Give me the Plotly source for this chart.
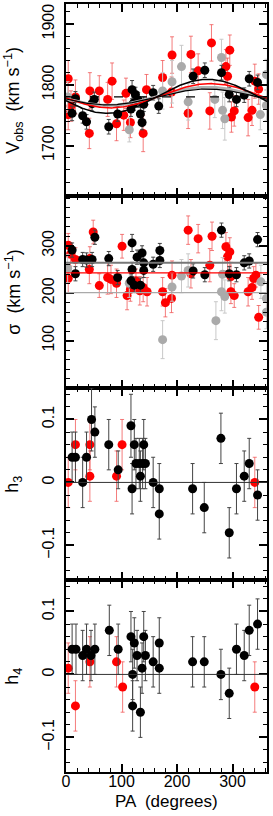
import numpy as np
import plotly.graph_objects as go
from plotly.subplots import make_subplots

# ---------------- data ----------------
# Panel 1: V_obs
v_red_pa = [4, 4, 9, 17, 42, 43, 60, 75, 83, 91, 104, 108, 116, 139, 145, 174, 190, 191, 220, 225, 238, 259, 262, 288, 291, 295, 298, 303, 328, 335, 340, 347]
v_red = [1810, 1751, 1765, 1780, 1720, 1790, 1790, 1776, 1806, 1736, 1750, 1786, 1738, 1720, 1792, 1812, 1788, 1849, 1753, 1850, 1823, 1757, 1869, 1830, 1814, 1857, 1747, 1757, 1746, 1758, 1806, 1793]
v_red_err = [30, 25, 25, 28, 25, 30, 25, 28, 30, 28, 25, 25, 25, 30, 25, 28, 25, 30, 25, 30, 28, 30, 30, 28, 30, 25, 25, 25, 30, 25, 28, 25]

v_blk_pa = [11, 17, 30, 37, 47, 51, 77, 93, 117, 119, 122, 125, 130, 134, 137, 140, 157, 167, 229, 250, 280, 294, 307, 321, 330, 345]
v_blk = [1753, 1777, 1749, 1739, 1769, 1776, 1731, 1752, 1760, 1792, 1770, 1784, 1775, 1752, 1738, 1768, 1787, 1765, 1814, 1824, 1820, 1784, 1776, 1783, 1810, 1804]
v_blk_err = [12, 12, 12, 12, 12, 12, 12, 12, 12, 15, 12, 12, 12, 12, 12, 12, 12, 12, 12, 12, 12, 12, 12, 12, 12, 12]

v_gry_pa = [3, 114, 174, 191, 208, 220, 268, 280, 282, 286, 350, 361, 361]
v_gry = [1780, 1726, 1790, 1805, 1830, 1772, 1776, 1845, 1758, 1744, 1751, 1817, 1766]
v_gry_err = [25, 20, 30, 35, 35, 30, 30, 30, 30, 35, 25, 25, 25]

# rotation-curve fits: (V_sys, amplitude, PA_max)
fit_black_outer = (1781, 28, 255)
fit_black_inner = (1780, 13, 255)
fit_red = (1782, 20, 260)
fit_gray = (1781, 15, 255)
v_sys_line = 1780

# Panel 2: sigma
s_red_pa = [4, 4, 8, 17, 42, 43, 49, 60, 75, 81, 91, 101, 110, 116, 126, 133, 139, 146, 174, 179, 190, 191, 220, 225, 238, 259, 263, 288, 291, 295, 297, 297, 303, 328, 335, 338, 342, 347]
s_red = [301, 231, 282, 271, 250, 273, 329, 216, 233, 229, 221, 299, 195, 208, 226, 205, 212, 203, 203, 180, 189, 238, 333, 241, 315, 259, 320, 298, 277, 287, 235, 203, 195, 203, 212, 231, 238, 149]
s_red_err = [25, 30, 25, 25, 30, 25, 25, 25, 35, 30, 30, 25, 30, 25, 25, 30, 30, 30, 30, 30, 30, 30, 30, 30, 30, 35, 30, 30, 30, 30, 30, 25, 25, 30, 25, 25, 25, 25]

s_blk_pa = [11, 17, 30, 37, 47, 52, 77, 93, 117, 119, 119, 123, 128, 134, 137, 140, 140, 157, 169, 169, 229, 250, 280, 294, 307, 321, 330, 345]
s_blk = [291, 241, 271, 270, 271, 318, 273, 233, 226, 306, 250, 217, 276, 217, 285, 264, 248, 261, 290, 269, 247, 239, 333, 241, 239, 264, 268, 313]
s_blk_err = [15, 15, 15, 15, 15, 15, 15, 15, 15, 18, 15, 15, 15, 15, 15, 15, 15, 15, 15, 15, 15, 15, 15, 15, 15, 15, 15, 15]

s_gry_pa = [3, 114, 174, 191, 208, 220, 270, 280, 282, 286, 351, 361, 361]
s_gry = [252, 221, 102, 213, 236, 248, 142, 203, 240, 193, 224, 189, 160]
s_gry_err = [30, 30, 40, 30, 35, 35, 40, 40, 35, 35, 35, 35, 35]

s_line_dark = 264
s_line_red = 243
s_line_gray = 201

# Panel 3: h3
h3_red_pa = [4, 17, 43, 43, 91, 101, 340]
h3_red = [0.0, 0.06, 0.06, 0.01, 0.01, 0.06, 0.0]
h3_red_err = [0.04, 0.04, 0.04, 0.04, 0.04, 0.04, 0.04]

h3_blk_pa = [11, 17, 30, 37, 46, 52, 77, 94, 117, 119, 123, 126, 132, 134, 138, 140, 143, 157, 168, 168, 228, 249, 279, 294, 307, 321, 330, 345]
h3_blk = [0.04, 0.04, 0.0, 0.04, 0.10, 0.08, 0.06, 0.02, 0.09, -0.01, 0.06, 0.03, 0.03, 0.01, 0.03, 0.06, 0.03, 0.0, -0.01, -0.05, -0.01, -0.04, 0.07, -0.08, -0.01, 0.01, 0.03, -0.02]
h3_blk_err = [0.04, 0.04, 0.04, 0.04, 0.05, 0.04, 0.04, 0.03, 0.05, 0.04, 0.04, 0.04, 0.04, 0.04, 0.04, 0.04, 0.04, 0.04, 0.04, 0.04, 0.04, 0.04, 0.04, 0.04, 0.04, 0.04, 0.04, 0.04]

# Panel 4: h4
h4_red_pa = [4, 17, 43, 91, 102, 340]
h4_red = [0.01, -0.05, 0.02, 0.02, -0.02, -0.02]
h4_red_err = [0.04, 0.04, 0.04, 0.04, 0.04, 0.04]

h4_blk_pa = [11, 18, 30, 37, 45, 52, 78, 94, 117, 120, 120, 123, 128, 134, 137, 140, 143, 157, 168, 168, 228, 249, 279, 294, 307, 321, 330, 345]
h4_blk = [0.04, 0.04, 0.03, 0.04, 0.03, 0.04, 0.07, 0.04, 0.06, 0.0, -0.05, 0.05, 0.03, -0.06, 0.01, 0.06, 0.03, 0.02, 0.05, 0.01, 0.02, 0.02, 0.0, -0.03, 0.04, 0.03, 0.07, 0.08]
h4_blk_err = [0.04] * 28

y_titles = ["V<sub>obs</sub>  (km s<sup>−1</sup>)", "σ  (km s<sup>−1</sup>)", "h<sub>3</sub>", "h<sub>4</sub>"]
x_title = "PA  (degrees)"

# ---------------- figure ----------------
FONT = "Liberation Sans, Arial, sans-serif"
RED = "#ff0000"
BLK = "#000000"
GRY = "#aaaaaa"
RED_ERR = "rgba(240,80,80,0.75)"
BLK_ERR = "#444444"
GRY_ERR = "#c8c8c8"
MS = 9

fig = make_subplots(rows=4, cols=1, shared_xaxes=True, vertical_spacing=0)


def pts(row, x, y, e, color, ecolor):
    fig.add_trace(go.Scatter(
        x=x, y=y, mode="markers",
        marker=dict(color=color, size=MS, line=dict(width=0)),
        error_y=dict(type="data", array=e, color=ecolor, thickness=1, width=2),
        showlegend=False, hoverinfo="skip"), row=row, col=1)


pts(1, v_red_pa, v_red, v_red_err, RED, RED_ERR)
pts(1, v_gry_pa, v_gry, v_gry_err, GRY, GRY_ERR)
pts(1, v_blk_pa, v_blk, v_blk_err, BLK, BLK_ERR)

pa_grid = np.linspace(0, 365, 200)
for (vs, amp, p0), col, w in [(fit_gray, "#b0b0b0", 3), (fit_red, RED, 1.5),
                              (fit_black_inner, BLK, 1.2), (fit_black_outer, BLK, 1.5)]:
    fig.add_trace(go.Scatter(x=pa_grid, y=vs + amp * np.cos(np.radians(pa_grid - p0)),
                             mode="lines", line=dict(color=col, width=w),
                             showlegend=False, hoverinfo="skip"), row=1, col=1)

pts(2, s_red_pa, s_red, s_red_err, RED, RED_ERR)
pts(2, s_gry_pa, s_gry, s_gry_err, GRY, GRY_ERR)
pts(2, s_blk_pa, s_blk, s_blk_err, BLK, BLK_ERR)

pts(3, h3_red_pa, h3_red, h3_red_err, RED, RED_ERR)
pts(3, h3_blk_pa, h3_blk, h3_blk_err, BLK, BLK_ERR)

pts(4, h4_red_pa, h4_red, h4_red_err, RED, RED_ERR)
pts(4, h4_blk_pa, h4_blk, h4_blk_err, BLK, BLK_ERR)

# horizontal reference lines
fig.add_shape(type="line", xref="x domain", yref="y", x0=0, x1=1, y0=v_sys_line, y1=v_sys_line,
              line=dict(color=BLK, width=1.2, dash="9px,15px"))
fig.add_shape(type="line", xref="x2 domain", yref="y2", x0=0, x1=1, y0=s_line_dark, y1=s_line_dark,
              line=dict(color="#777777", width=2))
fig.add_shape(type="line", xref="x2 domain", yref="y2", x0=0, x1=1, y0=s_line_red, y1=s_line_red,
              line=dict(color=RED, width=1.2))
fig.add_shape(type="line", xref="x2 domain", yref="y2", x0=0, x1=1, y0=s_line_gray, y1=s_line_gray,
              line=dict(color="#aaaaaa", width=1.2))
for yr in ["y3", "y4"]:
    fig.add_shape(type="line", xref="x domain", yref=yr, x0=0, x1=1, y0=0, y1=0,
                  line=dict(color="#333333", width=1))

axis_common = dict(showline=True, linecolor="black", linewidth=2, mirror="allticks",
                   ticks="inside", ticklen=8, tickwidth=1.5, tickcolor="black",
                   showgrid=False, zeroline=False,
                   tickfont=dict(family=FONT, size=16, color="black"))

for i in range(1, 5):
    fig.update_xaxes(range=[0, 362], tickvals=[0, 100, 200, 300],
                     minor=dict(ticks="inside", ticklen=4, tick0=0, dtick=20, tickcolor="black", tickwidth=1.2),
                     showticklabels=(i == 4), row=i, col=1, **axis_common)
fig.update_xaxes(ticklabelstandoff=-6, row=4, col=1)

ymin = dict(ticks="inside", ticklen=4, tick0=0, tickcolor="black", tickwidth=1.2)
fig.update_yaxes(range=[1617, 1933], tickvals=[1700, 1800, 1900], tickangle=-90,
                 minor=dict(dtick=20, **ymin), ticklabelstandoff=4, row=1, col=1, **axis_common)
fig.update_yaxes(range=[0, 405], tickvals=[100, 200, 300], tickangle=-90,
                 minor=dict(dtick=20, **ymin), ticklabelstandoff=4, row=2, col=1, **axis_common)
for r in (3, 4):
    fig.update_yaxes(range=[-0.155, 0.15], tickvals=[-0.1, 0, 0.1], ticktext=["−0.1", "0", "0.1"],
                     tickangle=-90, minor=dict(dtick=0.02, **ymin), ticklabelstandoff=4,
                     row=r, col=1, **axis_common)

# x-axis title as annotation
fig.add_annotation(text=x_title, xref="paper", yref="paper", x=0.5, y=-0.039,
                   showarrow=False, xanchor="center", yanchor="middle",
                   font=dict(family=FONT, size=17, color="black"))

# y-axis titles as rotated annotations
centers = [0.875, 0.625, 0.375, 0.125]
for t, c in zip(y_titles, centers):
    fig.add_annotation(text=t, xref="paper", yref="paper", x=-0.265, y=c,
                       textangle=-90, showarrow=False, xanchor="center", yanchor="middle",
                       font=dict(family=FONT, size=18, color="black"))

fig.update_layout(width=273, height=816, margin=dict(l=66, r=6, t=2, b=44),
                  plot_bgcolor="white", paper_bgcolor="white",
                  font=dict(family=FONT, size=15, color="black"))

fig.write_html("out.html", config={"displayModeBar": False},
               post_script="document.body.style.margin='0px';")
